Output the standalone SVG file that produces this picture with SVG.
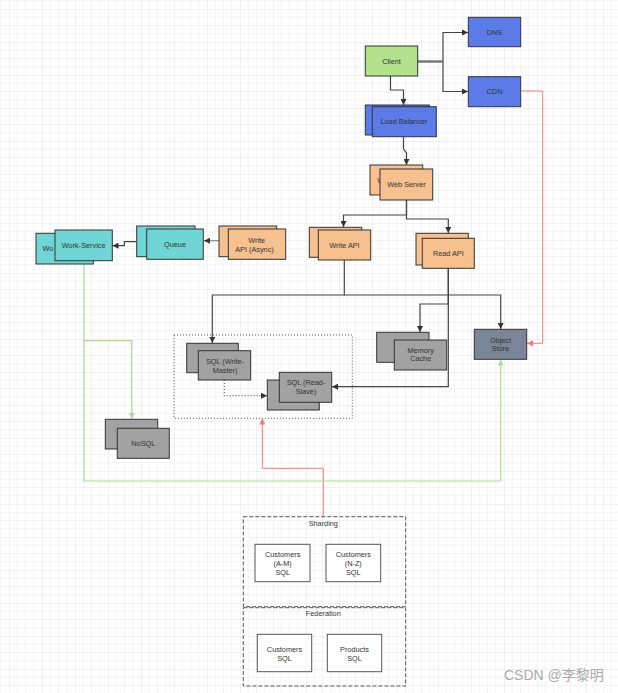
<svg xmlns="http://www.w3.org/2000/svg" width="618" height="693" viewBox="0 0 618 693">
<style>
text{font-family:"Liberation Sans",Arial,sans-serif;font-size:7.3px;fill:#333;text-anchor:middle;dominant-baseline:central}
.st{text-anchor:start}
.n{stroke:#333;stroke-width:1}
.green{fill:#b3e28c}.blue{fill:#5a7be8}.orange{fill:#f6c18f}.teal{fill:#70d6d5}.gray{fill:#a2a2a2}.slate{fill:#7b8698}
.c{fill:none;stroke:#444;stroke-width:1.2}
.cg{fill:none;stroke:#a8e08a;stroke-width:1.2}
.cr{fill:none;stroke:#f47a7a;stroke-width:1}
.dot{fill:none;stroke:#555;stroke-width:1;stroke-dasharray:1 2}
.dash{fill:none;stroke:#555;stroke-width:1;stroke-dasharray:4 2}
.box{fill:#fff;stroke:#555;stroke-width:1}
.wm{font-size:14px;fill:#aaa;font-family:"Liberation Sans","Noto Sans CJK SC",sans-serif;text-anchor:start}
</style>
<defs>
<pattern id="grid" x="9" y="9" width="33" height="33" patternUnits="userSpaceOnUse">
<path d="M8.25 0V33M16.5 0V33M24.75 0V33M0 8.25H33M0 16.5H33M0 24.75H33" stroke="#f3f3f3" stroke-width="1" fill="none"/>
<path d="M0 0V33M0 0H33" stroke="#e6e6e6" stroke-width="1" fill="none"/>
</pattern>
<marker id="a" markerWidth="6" markerHeight="6" refX="6" refY="3" orient="auto" markerUnits="userSpaceOnUse"><path d="M0 0L6 3L0 6z" fill="#333"/></marker>
<marker id="ag" markerWidth="6" markerHeight="6" refX="6" refY="3" orient="auto" markerUnits="userSpaceOnUse"><path d="M0 0L6 3L0 6z" fill="#a8e08a"/></marker>
<marker id="ar" markerWidth="6" markerHeight="6" refX="6" refY="3" orient="auto" markerUnits="userSpaceOnUse"><path d="M0 0L6 3L0 6z" fill="#f47a7a"/></marker>
</defs>
<rect width="618" height="693" fill="#fff"/>
<rect width="618" height="693" fill="url(#grid)"/>

<g id="sql-cluster"><rect class="dot" x="174" y="335" width="178.3" height="83.3"/></g>

<g id="connectors">
<path class="c" d="M417.7 61H443V32.5H468" marker-end="url(#a)"/>
<path class="c" d="M417.7 62H443V91.5H468" marker-end="url(#a)"/>
<path class="c" d="M390.5 76V90H403.5V105" marker-end="url(#a)"/>
<path class="c" d="M403.5 137V149L406.5 153V165" marker-end="url(#a)"/>
<path class="c" d="M406.5 200V215H343.5V227" marker-end="url(#a)"/>
<path class="c" d="M406.5 200V219H448.3V233" marker-end="url(#a)"/>
<path class="c" d="M344.3 260V295H212.3V343" marker-end="url(#a)"/>
<path class="c" d="M344.3 295H500.7V329" marker-end="url(#a)"/>
<path class="c" d="M448.3 268V304H420V332" marker-end="url(#a)"/>
<path class="c" d="M448.3 268V386.7H332" marker-end="url(#a)"/>
<path class="dot" style="stroke:#444" d="M224.3 380V395.7H267" marker-end="url(#a)"/>
<path class="c" style="stroke:#888" d="M219 240.7H204" marker-end="url(#a)"/>
<path class="c" d="M136.7 241.7H124.3V245.7H112.5" marker-end="url(#a)"/>
<path class="cr" d="M520.7 91H542.7V343.3H527" marker-end="url(#ar)"/>
<path class="cr" d="M323.3 516.7V468.3H262.3V418.5" marker-end="url(#ar)"/>
<path class="cg" d="M84 261V340.7H131.7V419" marker-end="url(#ag)"/>
<path class="cg" d="M84 340V481H500.7V359.5" marker-end="url(#ag)"/>
</g>

<g id="client"><rect class="n green" x="365.3" y="46" width="52.4" height="30"/><text x="391.5" y="61">Client</text></g>
<g id="dns"><rect class="n blue" x="468.3" y="17.3" width="52.4" height="29.4"/><text x="494.5" y="32">DNS</text></g>
<g id="cdn"><rect class="n blue" x="468.3" y="76.7" width="52.4" height="30"/><text x="494.5" y="91.7">CDN</text></g>
<g id="load-balancer"><rect class="n blue" x="365.3" y="105" width="64" height="30"/><rect class="n blue" x="372.3" y="106.7" width="64" height="30"/><text x="404" y="121">Load Balancer</text></g>
<g id="web-server"><rect class="n orange" x="370" y="165" width="52.7" height="30"/><text class="st" x="377.3" y="180">W</text><rect class="n orange" x="380" y="169" width="52.7" height="31"/><text x="406.5" y="184">Web Server</text></g>
<g id="write-api"><rect class="n orange" x="309.3" y="227.3" width="52.4" height="30"/><rect class="n orange" x="318.3" y="230" width="52.4" height="30"/><text x="344.5" y="245">Write API</text></g>
<g id="read-api"><rect class="n orange" x="416" y="233.3" width="52.3" height="31.7"/><rect class="n orange" x="422.3" y="238.3" width="52" height="30"/><text x="448.3" y="253.3">Read API</text></g>
<g id="write-api-async"><rect class="n orange" x="219" y="226" width="57.7" height="30.7"/><rect class="n orange" x="228.3" y="229" width="57.4" height="30.3"/><text x="256.7" y="240">Write</text><text x="254.5" y="249.3">API  (Async)</text></g>
<g id="queue"><rect class="n teal" x="136.7" y="226" width="58.3" height="30.7"/><rect class="n teal" x="146.7" y="229" width="56.6" height="30.3"/><text x="175" y="244">Queue</text></g>
<g id="work-service"><rect class="n teal" x="36" y="233.3" width="57.3" height="30.7"/><text class="st" x="42.5" y="248.5">Wo</text><rect class="n teal" x="55" y="230" width="57.3" height="30.7"/><text x="83.7" y="245.3">Work-Service</text></g>
<g id="sql-write-master"><rect class="n gray" x="186.7" y="343.3" width="51.6" height="29.4"/><rect class="n gray" x="198.3" y="350.7" width="52.4" height="29.3"/><text x="225" y="361.7">SQL (Write-</text><text x="225" y="370.3">Master)</text></g>
<g id="sql-read-slave"><rect class="n gray" x="267.3" y="380" width="52" height="30"/><rect class="n gray" x="279.3" y="372.3" width="52.4" height="30"/><text x="306" y="382">SQL (Read-</text><text x="306" y="391">Slave)</text></g>
<g id="memory-cache"><rect class="n gray" x="376.7" y="332.3" width="52.3" height="30"/><rect class="n gray" x="394.3" y="340" width="52.4" height="30"/><text x="420.7" y="350">Memory</text><text x="420.7" y="358.7">Cache</text></g>
<g id="object-store"><rect class="n slate" x="474.3" y="329.3" width="52.4" height="30"/><text x="500.5" y="340">Object</text><text x="500.5" y="348.7">Store</text></g>
<g id="nosql"><rect class="n gray" x="105.3" y="419.3" width="52.4" height="29.7"/><rect class="n gray" x="117.3" y="428.3" width="52" height="30"/><text x="143.3" y="443">NoSQL</text></g>
<g id="sharding"><rect class="dash" x="243.3" y="516.7" width="162.4" height="90"/><text x="323.3" y="523.3">Sharding</text>
<rect class="box" x="255" y="544.3" width="55" height="37.4"/><text x="282.7" y="554.3">Customers</text><text x="282.7" y="563.3">(A-M)</text><text x="282.7" y="572.3">SQL</text>
<rect class="box" x="326" y="544.3" width="54.7" height="37.4"/><text x="353.3" y="554.3">Customers</text><text x="353.3" y="563.3">(N-Z)</text><text x="353.3" y="572.3">SQL</text></g>
<g id="federation"><rect class="dash" x="243.3" y="607.7" width="162.4" height="78.3"/><text x="323.3" y="613.3">Federation</text>
<rect class="box" x="257.3" y="634.3" width="54.4" height="37.4"/><text x="284.5" y="649.3">Customers</text><text x="284.5" y="658.3">SQL</text>
<rect class="box" x="327.3" y="634.3" width="54.4" height="37.4"/><text x="354.5" y="649.3">Products</text><text x="354.5" y="658.3">SQL</text></g>
<text class="wm" x="504" y="675">CSDN @李黎明</text>
</svg>
